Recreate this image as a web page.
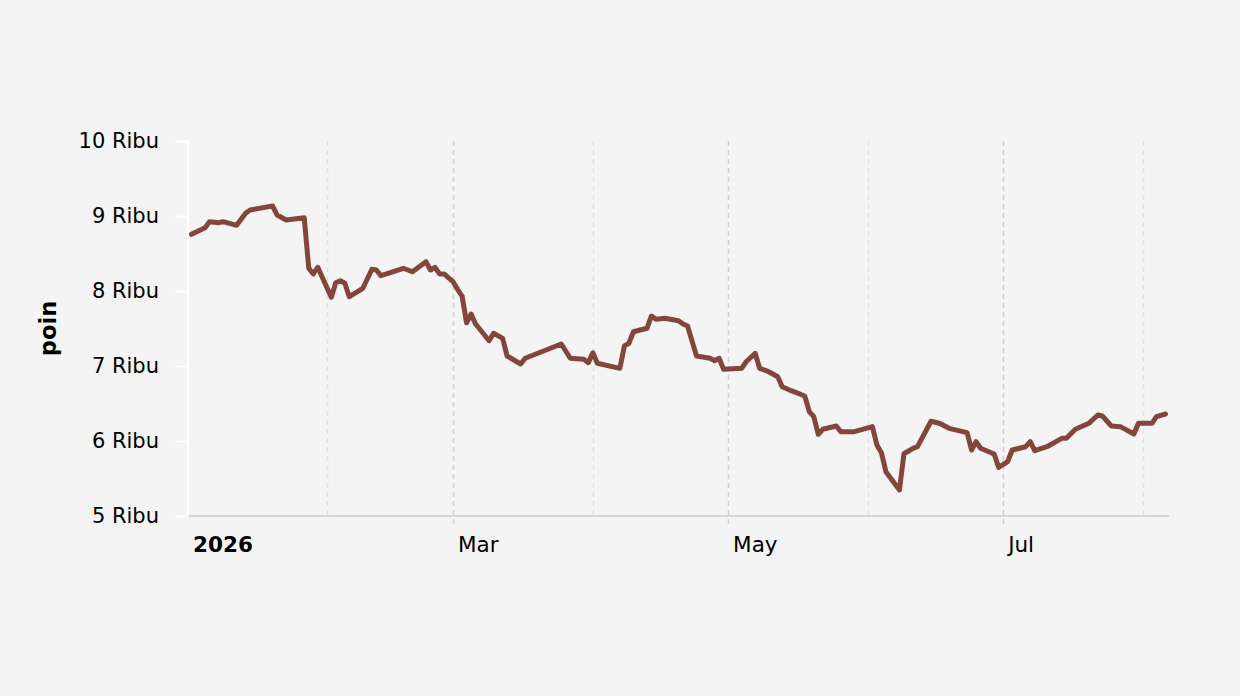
<!DOCTYPE html>
<html>
<head>
<meta charset="utf-8">
<script src="https://cdn.jsdelivr.net/npm/d3@7"></script>
<style>
  html, body { margin: 0; padding: 0; background: #f4f4f4; }
  svg { display: block; font-family: "DejaVu Sans", Verdana, sans-serif; }
</style>
</head>
<body>
<div id="chart"></div>
<script>
// observation dates and index values (poin)
const dates = [
  "2026-01-02", "2026-01-05", "2026-01-06", "2026-01-08", "2026-01-09", "2026-01-12",
  "2026-01-14", "2026-01-15", "2026-01-20", "2026-01-21", "2026-01-23", "2026-01-27",
  "2026-01-28", "2026-01-29", "2026-01-30", "2026-02-02", "2026-02-03", "2026-02-04",
  "2026-02-05", "2026-02-06", "2026-02-09", "2026-02-11", "2026-02-12", "2026-02-13",
  "2026-02-18", "2026-02-20", "2026-02-23", "2026-02-24", "2026-02-25", "2026-02-26",
  "2026-02-27", "2026-03-01", "2026-03-02", "2026-03-03", "2026-03-04", "2026-03-05",
  "2026-03-06", "2026-03-09", "2026-03-10", "2026-03-12", "2026-03-13", "2026-03-16",
  "2026-03-17", "2026-03-25", "2026-03-27", "2026-03-30", "2026-03-31", "2026-04-01",
  "2026-04-02", "2026-04-07", "2026-04-08", "2026-04-09", "2026-04-10", "2026-04-13",
  "2026-04-14", "2026-04-15", "2026-04-17", "2026-04-20", "2026-04-21", "2026-04-22",
  "2026-04-24", "2026-04-27", "2026-04-28", "2026-04-29", "2026-04-30", "2026-05-04",
  "2026-05-05", "2026-05-07", "2026-05-08", "2026-05-10", "2026-05-12", "2026-05-13",
  "2026-05-15", "2026-05-18", "2026-05-19", "2026-05-20", "2026-05-21", "2026-05-22",
  "2026-05-25", "2026-05-26", "2026-05-29", "2026-06-02", "2026-06-03", "2026-06-04",
  "2026-06-05", "2026-06-08", "2026-06-09", "2026-06-11", "2026-06-12", "2026-06-15",
  "2026-06-17", "2026-06-19", "2026-06-23", "2026-06-24", "2026-06-25", "2026-06-26",
  "2026-06-29", "2026-06-30", "2026-07-02", "2026-07-03", "2026-07-06", "2026-07-07",
  "2026-07-08", "2026-07-11", "2026-07-14", "2026-07-15", "2026-07-17", "2026-07-20",
  "2026-07-22", "2026-07-23", "2026-07-25", "2026-07-27", "2026-07-30", "2026-07-31",
  "2026-08-03", "2026-08-04", "2026-08-06"
];

const values = [
  8756, 8844, 8924, 8911, 8924, 8876,
  9036, 9080, 9133, 9013, 8947, 8977,
  8303, 8227, 8316, 7916, 8111, 8137,
  8103, 7924, 8036, 8289, 8280, 8204,
  8303, 8257, 8391, 8280, 8316, 8227,
  8227, 8124, 8023, 7933, 7577, 7693,
  7560, 7337, 7436, 7369, 7133, 7027,
  7103, 7293, 7103, 7089, 7044, 7177,
  7036, 6969, 7267, 7303, 7457, 7503,
  7667, 7623, 7636, 7604, 7560, 7533,
  7133, 7103, 7071, 7103, 6956, 6969,
  7057, 7169, 6969, 6924, 6857, 6724,
  6671, 6600, 6391, 6324, 6089, 6156,
  6200, 6124, 6124, 6191, 5947, 5844,
  5591, 5347, 5830, 5903, 5924, 6263,
  6233, 6169, 6111, 5880, 5991, 5903,
  5827, 5649, 5724, 5880, 5924, 5991,
  5871, 5933, 6036, 6036, 6156, 6236,
  6347, 6333, 6200, 6191, 6093, 6236,
  6236, 6324, 6360
];

const yTicks = [5000, 6000, 7000, 8000, 9000, 10000];
const yTickLabels = ["5 Ribu", "6 Ribu", "7 Ribu", "8 Ribu", "9 Ribu", "10 Ribu"];

const labelMonths = ["2026-01-01", "2026-03-01", "2026-05-01", "2026-07-01"];
const labelTexts = ["2026", "Mar", "May", "Jul"];
const gridMajor = ["2026-03-01", "2026-05-01", "2026-07-01"];
const gridMinor = ["2026-02-01", "2026-04-01", "2026-06-01", "2026-08-01"];

const axisLabel = "poin";
const domainDates = ["2026-01-01", "2026-08-07"];

const width = 1240;
const height = 696;
const margin = { top: 141, right: 71, bottom: 180, left: 188 };

const parse = d3.timeParse("%Y-%m-%d");
const data = dates.map((d, i) => ({ date: parse(d), value: values[i] }));

const svg = d3
  .select("#chart")
  .append("svg")
  .attr("width", width)
  .attr("height", height);

svg.append("rect")
  .attr("width", width)
  .attr("height", height)
  .attr("fill", "#f4f4f4");

const x = d3
  .scaleTime()
  .domain(domainDates.map(parse))
  .range([margin.left - 1, width - margin.right + 1]);

const y = d3
  .scaleLinear()
  .domain([5000, 10000])
  .range([height - margin.bottom, margin.top]);

const plotBottom = height - margin.bottom;

// vertical month gridlines
svg.append("g")
  .selectAll("line")
  .data(gridMinor.map(parse))
  .join("line")
  .attr("x1", (d) => Math.round(x(d)) + 0.5)
  .attr("x2", (d) => Math.round(x(d)) + 0.5)
  .attr("y1", margin.top)
  .attr("y2", plotBottom)
  .attr("stroke", "#e0e0e0")
  .attr("stroke-width", 1.5)
  .attr("stroke-dasharray", "5,4");

svg.append("g")
  .selectAll("line")
  .data(gridMajor.map(parse))
  .join("line")
  .attr("x1", (d) => Math.round(x(d)) + 0.5)
  .attr("x2", (d) => Math.round(x(d)) + 0.5)
  .attr("y1", margin.top)
  .attr("y2", plotBottom + 10)
  .attr("stroke", "#cfcfcf")
  .attr("stroke-width", 1.5)
  .attr("stroke-dasharray", "5,4");

// x axis line
svg.append("line")
  .attr("x1", margin.left)
  .attr("x2", width - margin.right)
  .attr("y1", plotBottom)
  .attr("y2", plotBottom)
  .attr("stroke", "#d6d6d6")
  .attr("stroke-width", 2);

// x labels
svg.append("g")
  .selectAll("text")
  .data(labelMonths.map(parse))
  .join("text")
  .attr("x", (d) => Math.max(x(d), margin.left) + 5)
  .attr("y", plotBottom + 36)
  .attr("font-size", 21.5)
  .attr("font-weight", (d, i) => (i === 0 ? "bold" : "normal"))
  .attr("fill", "#000")
  .text((d, i) => labelTexts[i]);

// y axis
const yAxis = d3
  .axisLeft(y)
  .tickValues(yTicks)
  .tickFormat((d, i) => yTickLabels[i])
  .tickSize(13)
  .tickPadding(16);

const yAxisGroup = svg
  .append("g")
  .attr("transform", `translate(${margin.left}, 0)`)
  .call(yAxis);

yAxisGroup.select(".domain")
  .attr("stroke", "#ffffff")
  .attr("stroke-width", 2.5)
  .attr("d", `M0,${margin.top}V${plotBottom}`);

yAxisGroup.selectAll(".tick line")
  .attr("stroke", "#ffffff")
  .attr("stroke-width", 2);

yAxisGroup.selectAll(".tick text")
  .attr("font-size", 21)
  .attr("font-family", "DejaVu Sans, sans-serif")
  .attr("fill", "#000");

// y axis title
svg.append("text")
  .attr("transform", `translate(56, ${(margin.top + plotBottom) / 2}) rotate(-90)`)
  .attr("text-anchor", "middle")
  .attr("font-size", 22.5)
  .attr("font-weight", "bold")
  .attr("fill", "#000")
  .text(axisLabel);

// series line
const line = d3
  .line()
  .x((d) => x(d.date))
  .y((d) => y(d.value));

svg.append("path")
  .datum(data)
  .attr("d", line)
  .attr("fill", "none")
  .attr("stroke", "#84463b")
  .attr("stroke-width", 5)
  .attr("stroke-linejoin", "round")
  .attr("stroke-linecap", "round");
</script>
</body>
</html>
